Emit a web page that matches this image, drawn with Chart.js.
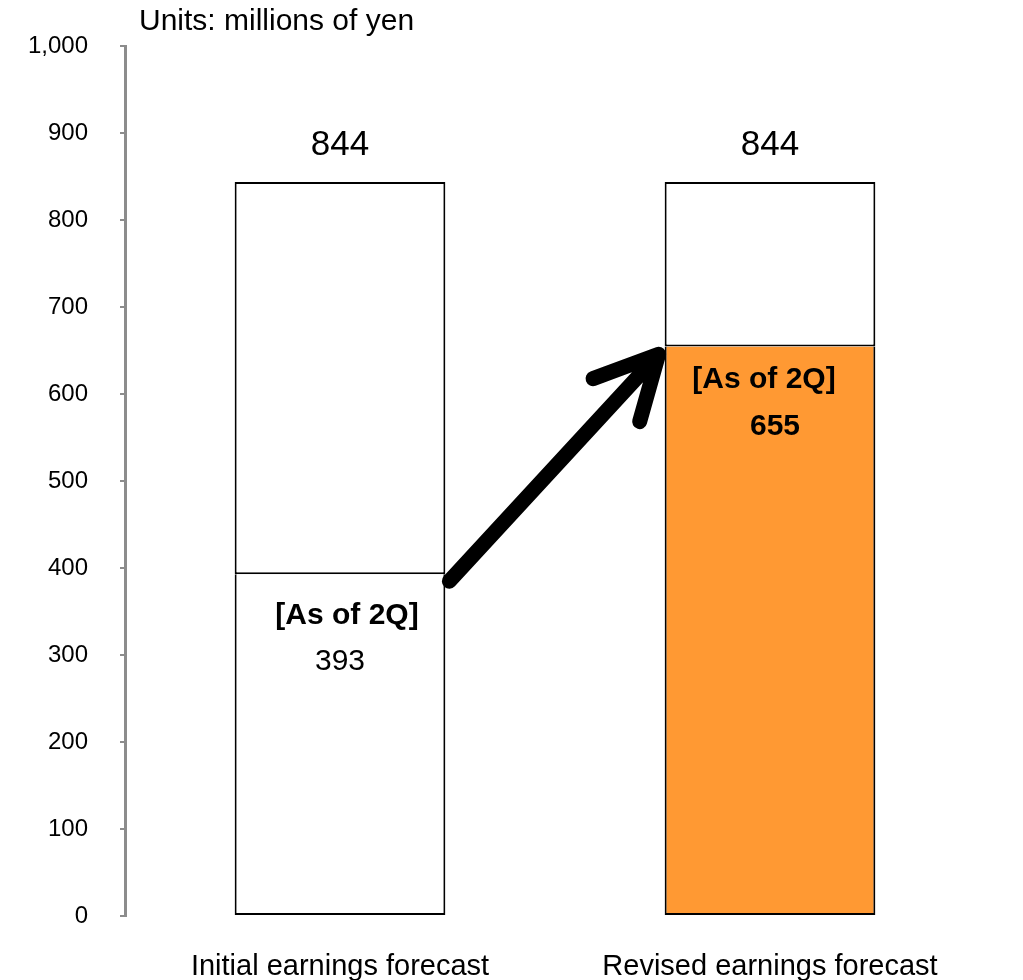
<!DOCTYPE html>
<html>
<head>
<meta charset="utf-8">
<script src="https://cdn.jsdelivr.net/npm/chart.js@4.4.1/dist/chart.umd.min.js"></script>
<style>
  body { margin: 0; background: #fff; }
  #wrap { width: 1023px; height: 980px; }
</style>
</head>
<body>
<div id="wrap"><canvas id="forecastChart" width="1023" height="980"></canvas></div>
<script>
// categories + values
const categories = ['Initial earnings forecast', 'Revised earnings forecast']
const totals = [844, 844]
const asOf2Q = [393, 655]
const yTicks = [0, 100, 200, 300, 400, 500, 600, 700, 800, 900, 1000]
const remaining = totals.map((t, i) => t - asOf2Q[i])

const FONT = "'Liberation Sans', Arial, sans-serif"

// labels + arrow drawn on top of the bars
const annotations = {
    id: 'annotations',
    afterDatasetsDraw(chart) {
        const ctx = chart.ctx
        const y = chart.scales.y
        const low = chart.getDatasetMeta(0).data
        ctx.save()
        ctx.fillStyle = '#000'
        ctx.textBaseline = 'middle'

        // units caption
        ctx.textAlign = 'left'
        ctx.font = '30px ' + FONT
        ctx.fillText('Units: millions of yen', 139, 22)

        ctx.textAlign = 'center'
        // totals above bars
        ctx.font = '35px ' + FONT
        low.forEach((bar, i) => {
            ctx.fillText(String(totals[i]), bar.x, y.getPixelForValue(totals[i]) - 37)
        })

        // first bar: [As of 2Q] + value below the split line
        let b = low[0]
        let top = y.getPixelForValue(asOf2Q[0])
        ctx.font = 'bold 30px ' + FONT
        ctx.fillText('[As of 2Q]', b.x + 7, top + 41)
        ctx.font = '30px ' + FONT
        ctx.fillText(String(asOf2Q[0]), b.x, top + 87)

        // second bar
        b = low[1]
        top = y.getPixelForValue(asOf2Q[1])
        ctx.font = 'bold 30px ' + FONT
        ctx.fillText('[As of 2Q]', b.x - 6, top + 33)
        ctx.font = 'bold 30px ' + FONT
        ctx.fillText(String(asOf2Q[1]), b.x + 5, top + 80)

        // arrow from first split to second
        const x0 = low[0].x + low[0].width / 2 + 4
        const y0 = y.getPixelForValue(385)
        const x1 = low[1].x - low[1].width / 2 - 6
        const y1 = y.getPixelForValue(646)
        const ang = Math.atan2(y0 - y1, x0 - x1)
        const len = 70
        ctx.strokeStyle = '#000'
        ctx.lineWidth = 15
        ctx.lineCap = 'round'
        ctx.lineJoin = 'round'
        ctx.beginPath()
        ctx.moveTo(x0, y0)
        ctx.lineTo(x1, y1)
        ctx.moveTo(x1 + len * Math.cos(ang + 0.47), y1 + len * Math.sin(ang + 0.47))
        ctx.lineTo(x1, y1)
        ctx.lineTo(x1 + len * Math.cos(ang - 0.47), y1 + len * Math.sin(ang - 0.47))
        ctx.stroke()
        ctx.restore()
    }
}

const forecastData = {
    labels: categories,
    datasets: [{
        label: 'As of 2Q',
        data: asOf2Q,
        backgroundColor: ['#ffffff', '#ff9933'],
        borderColor: '#000',
        borderWidth: 2,
        borderSkipped: 'top'
    }, {
        label: 'Full year',
        data: remaining,
        backgroundColor: '#ffffff',
        borderColor: '#000',
        borderWidth: 2,
        borderSkipped: false
    }]
}

const forecastConfig = {
    type: 'bar',
    data: forecastData,
    options: {
        responsive: false,
        animation: false,
        categoryPercentage: 1,
        barPercentage: 0.49,
        layout: { padding: { top: 44, right: 38, bottom: 0, left: 0 } },
        plugins: {
            legend: { display: false },
            tooltip: { enabled: false }
        },
        scales: {
            x: {
                stacked: true,
                grid: { display: false, drawTicks: false },
                border: { display: false },
                ticks: { color: '#000', font: { family: FONT, size: 29 }, padding: 34, maxRotation: 0 },
                afterFit: (axis) => { axis.height = 64 }
            },
            y: {
                stacked: true,
                min: 0,
                max: 1000,
                afterBuildTicks: (axis) => { axis.ticks = yTicks.map(v => ({ value: v })) },
                grid: { drawOnChartArea: false, color: '#8c8c8c', tickLength: 5, lineWidth: 2 },
                border: { display: true, color: '#8c8c8c', width: 3 },
                ticks: {
                    color: '#000',
                    font: { family: FONT, size: 24 },
                    padding: 32,
                    callback: (v) => v.toLocaleString('en-US')
                },
                afterFit: (axis) => { axis.width = 125 }
            }
        }
    },
    plugins: [annotations]
}

var forecastChart = new Chart(document.getElementById('forecastChart'), forecastConfig)
</script>
</body>
</html>
